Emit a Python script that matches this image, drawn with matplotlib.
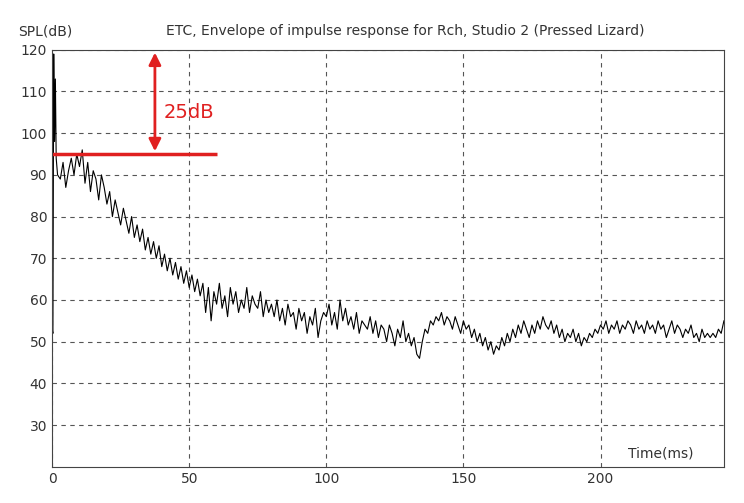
import matplotlib
matplotlib.use("Agg")
import matplotlib.pyplot as plt
import numpy as np

t_start = [0, 0.3, 0.6, 0.9, 1.2, 1.5, 2]
v_start = [53, 52, 119, 98, 113, 94, 90]
v_rest = [89,93,87,91,94,90,95,92,
96,88,93,86,91,89,84,90,87,83,
86,80,84,81,78,82,79,76,80,75,
78,74,77,72,75,71,74,70,73,68,
71,67,70,66,69,65,68,64,67,63,
66,62,65,61,64,57,63,55,62,59,
64,58,61,56,63,59,62,57,60,58,
63,57,61,59,58,62,56,60,57,59,
56,60,55,58,54,59,56,57,53,58,
55,57,52,56,54,58,51,55,57,56,
59,54,57,53,60,55,58,54,56,53,
57,52,55,54,53,56,52,55,51,54,
53,50,54,52,49,53,51,55,50,52,
49,51,47,46,50,53,52,55,54,56,
55,57,54,56,55,53,56,54,52,55,
53,54,51,53,50,52,49,51,48,50,
47,49,48,51,49,52,50,53,51,54,
52,55,53,51,54,52,55,53,56,54,
53,55,52,54,51,53,50,52,51,53,
50,52,49,51,50,52,51,53,52,54,
53,55,52,54,53,55,52,54,53,55,
54,52,55,53,54,52,55,53,54,52,
55,53,54,51,53,55,52,54,53,51,
53,52,54,51,52,50,53,51,52,51,
52,51,53,52,55]
t_rest = list(range(3, 3 + len(v_rest)))
time = t_start + t_rest
spl = v_start + v_rest

xticks = [0, 50, 100, 150, 200]
yticks = [30, 40, 50, 60, 70, 80, 90, 100, 110, 120]

fig = plt.figure(figsize=(7.44, 5.03), dpi=100)
ax = fig.add_axes([0.07, 0.072, 0.903, 0.829])
ax.plot(time, spl, color="black", lw=0.8)
ax.set_xlim(0, 245)
ax.set_ylim(20, 120)
ax.set_xticks(xticks)
ax.set_yticks(yticks)
ax.grid(True, color="#555555", linestyle=(0, (4, 4)), lw=0.8)
ax.tick_params(length=0, labelsize=10, colors="#333333")
for s in ax.spines.values():
    s.set_color("#444444")

red = "#e02020"
ax.plot([0, 60], [95, 95], color=red, lw=2.5, solid_capstyle="butt")
ax.annotate("", xy=(37.5, 120), xytext=(37.5, 95),
            arrowprops=dict(arrowstyle="<|-|>", color=red, lw=2, mutation_scale=18))
ax.text(40.5, 105, "25dB", color=red, fontsize=14, va="center")

fig.text(0.025, 0.93, "SPL(dB)", fontsize=10, color="#333333")
fig.text(0.545, 0.93, "ETC, Envelope of impulse response for Rch, Studio 2 (Pressed Lizard)",
         fontsize=10, color="#333333", ha="center")
ax.text(222, 21.5, "Time(ms)", fontsize=10, color="#333333", ha="center", va="bottom")
fig.savefig("out.png", dpi=100)
